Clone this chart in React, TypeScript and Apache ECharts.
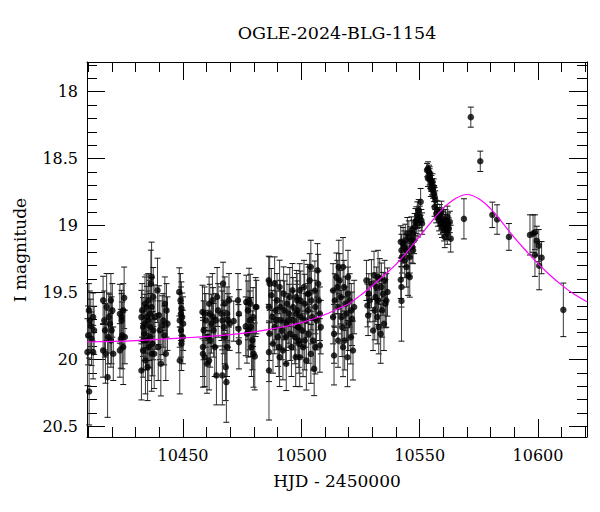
import React, { useEffect, useRef } from "react";
import * as echarts from "echarts";

// Observations: [HJD-2450000, I magnitude, error]
const season1: number[][] = [
  [10410.2,19.634,0.2],[10410.6,19.709,0.22],[10412.0,19.684,0.18],[10409.9,19.821,0.22],[10411.3,19.846,0.2],
  [10409.6,19.946,0.25],[10412.0,19.946,0.2],[10410.3,20.24,0.25],[10412.4,19.783,0.18],[10411.0,19.75,0.2],
  [10416.2,19.559,0.18],[10416.7,19.709,0.22],[10417.0,19.783,0.2],[10417.7,19.609,0.25],[10418.4,19.833,0.2],
  [10418.6,19.684,0.18],[10419.5,19.559,0.2],[10419.1,19.733,0.22],[10420.1,19.634,0.2],[10418.1,20.133,0.3],
  [10419.8,19.783,0.25],[10420.5,19.958,0.2],[10416.2,19.933,0.2],[10417.2,19.958,0.22],[10419.5,19.858,0.2],
  [10423.3,19.659,0.22],[10424.0,19.684,0.2],[10424.7,19.634,0.2],[10425.1,19.54,0.23],[10423.7,19.846,0.22],
  [10424.3,19.821,0.25],[10425.4,19.833,0.2],[10423.3,19.933,0.2],[10424.7,19.908,0.28],[10424.0,19.709,0.2],
];
const season2: number[][] = [
  [10432.4,19.684,0.2],[10433.1,19.758,0.22],[10433.9,19.584,0.2],[10434.6,19.609,0.24],[10435.3,19.709,0.22],
  [10436.0,19.659,0.25],[10436.7,19.384,0.26],[10436.4,19.434,0.25],[10437.4,19.534,0.22],[10433.6,19.808,0.2],
  [10434.6,19.858,0.22],[10435.5,19.908,0.25],[10436.7,19.958,0.28],[10433.1,19.933,0.2],[10432.4,20.083,0.22],
  [10434.1,20.008,0.25],[10435.0,20.058,0.25],[10436.0,19.833,0.23],[10437.4,19.783,0.22],[10438.1,19.684,0.24],
  [10432.7,19.634,0.2],[10433.9,19.733,0.22],[10435.3,19.559,0.2],[10436.7,19.609,0.22],[10436.1,19.758,0.25],
  [10434.7,19.684,0.23],[10433.3,19.858,0.22],[10437.1,19.883,0.24],[10437.8,19.958,0.26],
  [10439.2,19.484,0.24],[10439.8,19.67,0.22],[10439.5,19.908,0.25],[10440.2,19.783,0.22],[10440.6,20.033,0.24],
  [10441.6,19.709,0.2],[10442.3,19.584,0.2],[10443.0,19.634,0.2],[10442.0,19.821,0.22],[10441.2,19.745,0.22],
  [10443.4,19.733,0.2],[10442.7,19.958,0.2],
  [10448.4,19.496,0.18],[10448.9,19.559,0.2],[10449.3,19.621,0.2],[10449.6,19.684,0.18],[10448.6,19.709,0.2],
  [10450.0,19.733,0.2],[10449.1,19.783,0.2],[10449.3,19.883,0.2],[10448.6,20.008,0.25],[10449.9,19.833,0.2],
  [10449.1,19.659,0.2],
];
const season3: number[][] = [
  [10458.2,19.646,0.2],[10458.7,19.783,0.22],[10459.1,19.659,0.2],[10458.4,19.908,0.22],[10458.4,19.958,0.25],
  [10459.6,19.709,0.2],[10460.1,20.033,0.22],[10460.5,19.833,0.2],[10461.0,19.584,0.2],[10461.3,19.659,0.22],
  [10461.5,19.858,0.2],[10462.0,19.733,0.22],[10462.4,19.559,0.2],[10462.7,19.684,0.22],[10462.9,19.783,0.2],
  [10463.4,19.908,0.22],[10463.8,19.709,0.2],[10464.1,20.12,0.22],[10464.4,19.534,0.22],[10464.8,19.634,0.2],
  [10459.1,19.983,0.22],[10461.0,20.008,0.22],
  [10466.2,19.659,0.2],[10466.9,19.434,0.16],[10466.6,19.709,0.22],[10467.2,19.758,0.2],[10467.6,19.584,0.2],
  [10468.0,20.058,0.25],[10468.3,20.17,0.3],[10468.6,19.659,0.2],[10469.0,19.709,0.2],[10469.4,19.559,0.2],
  [10469.7,19.733,0.2],[10466.6,20.12,0.22],[10467.6,19.833,0.2],[10468.6,19.908,0.22],
  [10471.4,19.714,0.15],[10473.2,19.559,0.2],[10473.6,19.659,0.18],[10473.4,19.771,0.18],[10473.6,19.871,0.2],
  [10476.5,19.753,0.22],[10476.7,19.571,0.2],[10477.0,19.808,0.22],[10477.4,19.634,0.22],[10477.9,19.559,0.24],
  [10478.2,19.709,0.22],[10478.4,19.584,0.22],[10478.9,19.908,0.22],[10479.3,19.858,0.22],[10479.6,19.684,0.22],
  [10479.8,19.958,0.25],[10480.3,19.978,0.25],[10480.7,19.609,0.22],[10481.0,19.609,0.2],[10477.6,19.783,0.2],
  [10478.6,19.758,0.22],
];
const season4: number[][] = [
  [10486.2,19.409,0.18],[10486.6,19.434,0.2],[10486.3,19.609,0.2],[10486.6,19.808,0.2],[10486.3,19.946,0.22],
  [10486.3,20.083,0.37],[10487.3,19.521,0.2],[10487.7,19.684,0.2],[10488.0,19.883,0.22],[10488.7,19.434,0.2],
  [10489.1,19.634,0.22],[10489.4,19.709,0.22],[10489.7,19.559,0.2],[10490.1,19.833,0.22],[10490.5,19.908,0.22],
  [10490.8,19.459,0.2],[10491.1,19.609,0.2],[10491.5,19.709,0.22],[10491.9,19.783,0.22],[10492.2,19.933,0.22],
  [10492.5,19.509,0.2],[10492.9,19.634,0.22],[10493.4,19.833,0.2],[10493.6,20.033,0.2],[10493.9,19.584,0.22],
  [10494.4,19.709,0.2],[10494.8,19.659,0.22],[10495.1,19.534,0.22],[10495.3,19.808,0.2],[10495.8,19.908,0.22],
  [10496.2,19.484,0.2],[10496.5,19.609,0.22],[10496.7,19.709,0.22],[10497.2,19.833,0.2],[10497.6,19.983,0.22],
  [10497.9,19.659,0.22],[10498.2,19.559,0.2],[10498.6,19.758,0.22],[10499.0,19.883,0.22],[10493.6,19.733,0.2],
  [10490.8,19.983,0.22],[10488.7,19.758,0.2],
  [10497.9,19.535,0.2],[10498.3,19.634,0.22],[10498.6,19.759,0.22],[10498.9,19.859,0.2],[10499.3,19.485,0.2],
  [10499.7,19.56,0.22],[10500.0,19.684,0.22],[10500.3,19.784,0.2],[10500.7,19.909,0.22],[10501.1,19.46,0.2],
  [10501.4,19.584,0.22],[10501.7,19.709,0.2],[10502.1,20.009,0.22],[10502.6,19.51,0.22],[10502.8,19.634,0.2],
  [10503.1,19.809,0.22],[10503.5,19.41,0.2],[10504.0,19.31,0.2],[10504.2,19.56,0.22],[10504.5,19.684,0.2],
  [10504.9,19.859,0.22],[10505.4,20.071,0.2],[10505.7,19.485,0.22],[10505.9,19.609,0.2],[10506.4,19.709,0.22],
  [10506.8,19.335,0.2],[10507.1,19.435,0.22],[10507.3,19.56,0.22],[10507.8,19.659,0.2],[10508.2,19.759,0.2],
  [10507.8,19.896,0.2],[10504.0,19.959,0.22],[10499.3,19.984,0.22],[10501.4,19.859,0.22],[10503.1,19.51,0.2],
  [10505.9,19.909,0.2],
];
const season5: number[][] = [
  [10513.4,19.485,0.2],[10513.4,19.684,0.2],[10513.8,19.809,0.22],[10513.8,19.971,0.22],[10514.1,19.56,0.2],
  [10514.8,19.385,0.18],[10515.2,19.46,0.2],[10515.5,19.609,0.2],[10515.8,19.31,0.2],[10516.2,19.41,0.2],
  [10516.6,19.535,0.2],[10516.9,19.684,0.2],[10517.2,19.759,0.22],[10517.6,19.31,0.22],[10518.0,19.46,0.2],
  [10518.3,19.859,0.22],[10518.6,19.584,0.2],[10519.0,19.659,0.2],[10519.5,19.984,0.22],[10519.7,19.51,0.2],
  [10520.0,19.734,0.2],[10520.4,19.56,0.2],[10520.9,19.834,0.2],[10521.1,19.634,0.2],[10521.4,19.697,0.2],
  [10521.8,19.934,0.22],[10522.3,19.609,0.2],[10515.5,19.859,0.2],[10517.6,19.909,0.22],[10519.7,19.385,0.2],
  [10527.5,19.41,0.15],[10527.9,19.597,0.16],[10528.2,19.672,0.15],[10528.5,19.51,0.15],[10528.9,19.56,0.16],
  [10529.6,19.435,0.18],[10530.3,19.784,0.15],[10530.7,19.372,0.18],[10531.0,19.634,0.22],[10531.3,19.535,0.18],
  [10531.7,19.46,0.15],[10532.1,19.684,0.2],[10532.4,19.56,0.18],[10532.7,19.759,0.2],[10533.1,19.397,0.15],
  [10533.5,19.809,0.22],[10533.8,19.46,0.18],[10534.1,19.634,0.2],[10534.5,19.51,0.16],[10534.9,19.734,0.2],
  [10535.2,19.41,0.15],[10535.5,19.584,0.18],[10535.9,19.56,0.2],[10536.4,19.497,0.18],[10532.4,19.385,0.2],
];
const risingBranch: number[][] = [
  [10542.0,19.122,0.12],[10542.3,19.185,0.12],[10542.5,19.235,0.12],[10542.0,19.405,0.14],[10542.3,19.459,0.15],
  [10542.3,19.564,0.3],[10543.0,19.135,0.12],[10543.4,19.16,0.12],[10543.7,19.26,0.13],[10543.9,19.11,0.12],
  [10544.4,19.185,0.12],[10544.8,19.06,0.12],[10545.1,19.372,0.15],[10545.4,19.085,0.12],[10545.8,19.235,0.12],
  [10546.2,19.11,0.1],[10546.5,19.035,0.1],[10546.8,19.16,0.12],[10547.2,19.06,0.1],[10547.6,19.11,0.1],
  [10547.9,19.01,0.1],[10548.2,18.973,0.1],[10548.6,18.96,0.1],[10549.0,18.923,0.1],[10549.3,18.985,0.1],
  [10549.6,18.886,0.08],[10550.0,18.935,0.08],[10550.4,18.823,0.1],[10550.7,18.96,0.08],[10551.0,18.985,0.08],
  [10544.4,19.31,0.15],[10545.8,19.385,0.15],[10547.2,19.185,0.1],
];
const peakNights: number[][] = [
  [10553.1,18.586,0.05],[10553.5,18.574,0.05],[10553.9,18.599,0.05],[10554.2,18.636,0.06],[10554.5,18.661,0.06],
  [10554.9,18.686,0.06],[10555.2,18.711,0.06],[10555.6,18.736,0.06],[10556.1,18.761,0.06],[10556.3,18.786,0.07],
  [10556.6,18.811,0.07],[10554.2,18.611,0.05],[10554.7,18.723,0.06],[10555.4,18.673,0.06],[10553.5,18.648,0.06],
  [10555.9,18.711,0.06],
  [10556.3,18.861,0.07],[10557.0,18.91,0.07],[10557.5,18.886,0.07],[10557.7,18.935,0.07],[10558.2,18.96,0.08],
  [10558.5,18.923,0.08],[10558.9,18.985,0.08],[10559.2,18.948,0.08],[10559.4,19.01,0.08],[10559.9,18.973,0.08],
  [10560.3,19.035,0.08],[10560.6,18.998,0.08],[10560.9,18.96,0.08],[10561.3,19.023,0.08],[10561.7,19.06,0.08],
  [10562.0,18.985,0.08],[10562.3,19.023,0.08],[10562.7,18.973,0.08],[10563.1,19.098,0.1],[10560.6,19.085,0.08],
  [10559.2,18.898,0.08],[10561.7,18.935,0.08],
];
const decline: number[][] = [
  [10568.7,18.95,0.15],[10571.6,18.19,0.075],[10575.6,18.52,0.076],[10580.7,18.92,0.095],[10582.7,18.955,0.11],
  [10587.7,19.085,0.1],[10596.6,19.07,0.15],[10597.9,19.06,0.14],[10598.7,19.05,0.13],[10599.5,19.115,0.11],
  [10600.3,19.15,0.12],[10598.7,19.22,0.16],[10601.5,19.24,0.12],[10600.5,19.3,0.18],[10610.7,19.63,0.2],
];

// Model light curve
const modelDays = [10409.4, 10430, 10450, 10470, 10480, 10490, 10500, 10510, 10515, 10520, 10525, 10530, 10535,
  10540, 10545, 10550, 10555, 10560, 10565, 10570, 10575, 10580, 10585, 10590, 10595, 10600, 10605, 10610, 10615, 10620.7];
const modelMags = [19.87, 19.86, 19.84, 19.815, 19.795, 19.765, 19.725, 19.665, 19.625, 19.585, 19.52, 19.45, 19.37,
  19.29, 19.19, 19.08, 18.97, 18.87, 18.8, 18.768, 18.8, 18.875, 18.98, 19.09, 19.19, 19.285, 19.37, 19.445, 19.51, 19.57];

const titleText = "OGLE-2024-BLG-1154";
const xName = "HJD - 2450000";
const yName = "I magnitude";

const X_MIN = 10409.4, X_MAX = 10620.7;
const Y_MIN = 17.778, Y_MAX = 20.58;

export default function App() {
  const ref = useRef<HTMLDivElement>(null);
  useEffect(() => {
    if (!ref.current) return;
    const chart = echarts.init(ref.current, undefined, { renderer: "svg" });
    const obs = [...season1, ...season2, ...season3, ...season4, ...season5, ...risingBranch, ...peakNights, ...decline];
    const model = modelDays.map((d, i) => [d, modelMags[i]]);
    const font = "'DejaVu Serif', serif";
    const common = {
      axisLine: { show: true, lineStyle: { color: "#000", width: 1 } },
      axisTick: { show: true, inside: true, length: 18, lineStyle: { color: "#000", width: 1 } },
      minorTick: { show: true, splitNumber: 5, length: 10, lineStyle: { color: "#000", width: 1 } },
      splitLine: { show: false },
    };
    chart.setOption({
      animation: false,
      backgroundColor: "#fff",
      grid: { left: 87, top: 62, width: 500, height: 375, containLabel: false },
      graphic: [
        { type: "text", x: 337, y: 33, style: { text: titleText, font: `17.5px ${font}`, fill: "#000", textAlign: "center", textVerticalAlign: "middle" } },
        { type: "text", x: 337, y: 481, style: { text: xName, font: `17px ${font}`, fill: "#000", textAlign: "center", textVerticalAlign: "middle" } },
        { type: "text", x: 20, y: 250, rotation: Math.PI / 2, style: { text: yName, font: `17px ${font}`, fill: "#000", textAlign: "center", textVerticalAlign: "middle" } },
      ],
      xAxis: [
        {
          type: "value", min: X_MIN, max: X_MAX, minInterval: 50, maxInterval: 50, position: "bottom",
          ...common,
          axisLabel: {
            show: true, margin: 10, color: "#000", fontFamily: font, fontSize: 16,
            showMinLabel: false, showMaxLabel: false,
            formatter: (v: number) => String(Math.round(v)),
          },
        },
        {
          type: "value", min: X_MIN, max: X_MAX, minInterval: 50, maxInterval: 50, position: "top",
          ...common,
          axisLabel: { show: false },
        },
      ],
      yAxis: [
        {
          type: "value", min: Y_MIN, max: Y_MAX, inverse: true, minInterval: 0.5, maxInterval: 0.5, position: "left",
          ...common,
          axisLabel: {
            show: true, margin: 9, color: "#000", fontFamily: font, fontSize: 16,
            showMinLabel: false, showMaxLabel: false,
            formatter: (v: number) => String(Math.round(v * 10) / 10),
          },
        },
        {
          type: "value", min: Y_MIN, max: Y_MAX, inverse: true, minInterval: 0.5, maxInterval: 0.5, position: "right",
          ...common,
          axisLabel: { show: false },
        },
      ],
      series: [
        {
          type: "custom",
          xAxisIndex: 0, yAxisIndex: 0,
          data: obs,
          encode: { x: 0, y: 1 },
          z: 2,
          renderItem: (params: any, api: any) => {
            const x = api.value(0), m = api.value(1), e = api.value(2);
            const top = api.coord([x, m - e]);
            const bot = api.coord([x, m + e]);
            const cw = 3;
            return {
              type: "group",
              children: [
                { type: "line", shape: { x1: top[0], y1: top[1], x2: bot[0], y2: bot[1] }, style: { stroke: "#3a3a3a", lineWidth: 1 } },
                { type: "line", shape: { x1: top[0] - cw, y1: top[1], x2: top[0] + cw, y2: top[1] }, style: { stroke: "#111", lineWidth: 1 } },
                { type: "line", shape: { x1: bot[0] - cw, y1: bot[1], x2: bot[0] + cw, y2: bot[1] }, style: { stroke: "#111", lineWidth: 1 } },
              ],
            };
          },
        },
        {
          type: "scatter", xAxisIndex: 0, yAxisIndex: 0, z: 3,
          data: obs.map((p) => [p[0], p[1]]),
          symbol: "circle", symbolSize: 6.5,
          itemStyle: { color: "#000" },
        },
        {
          type: "line", xAxisIndex: 0, yAxisIndex: 0, z: 4,
          data: model, smooth: 0.4, showSymbol: false,
          lineStyle: { color: "#ff00ff", width: 1.2 },
        },
      ],
    });
    return () => chart.dispose();
  }, []);
  return <div ref={ref} style={{ position: "absolute", left: 0, top: 0, width: 600, height: 512 }} />;
}
